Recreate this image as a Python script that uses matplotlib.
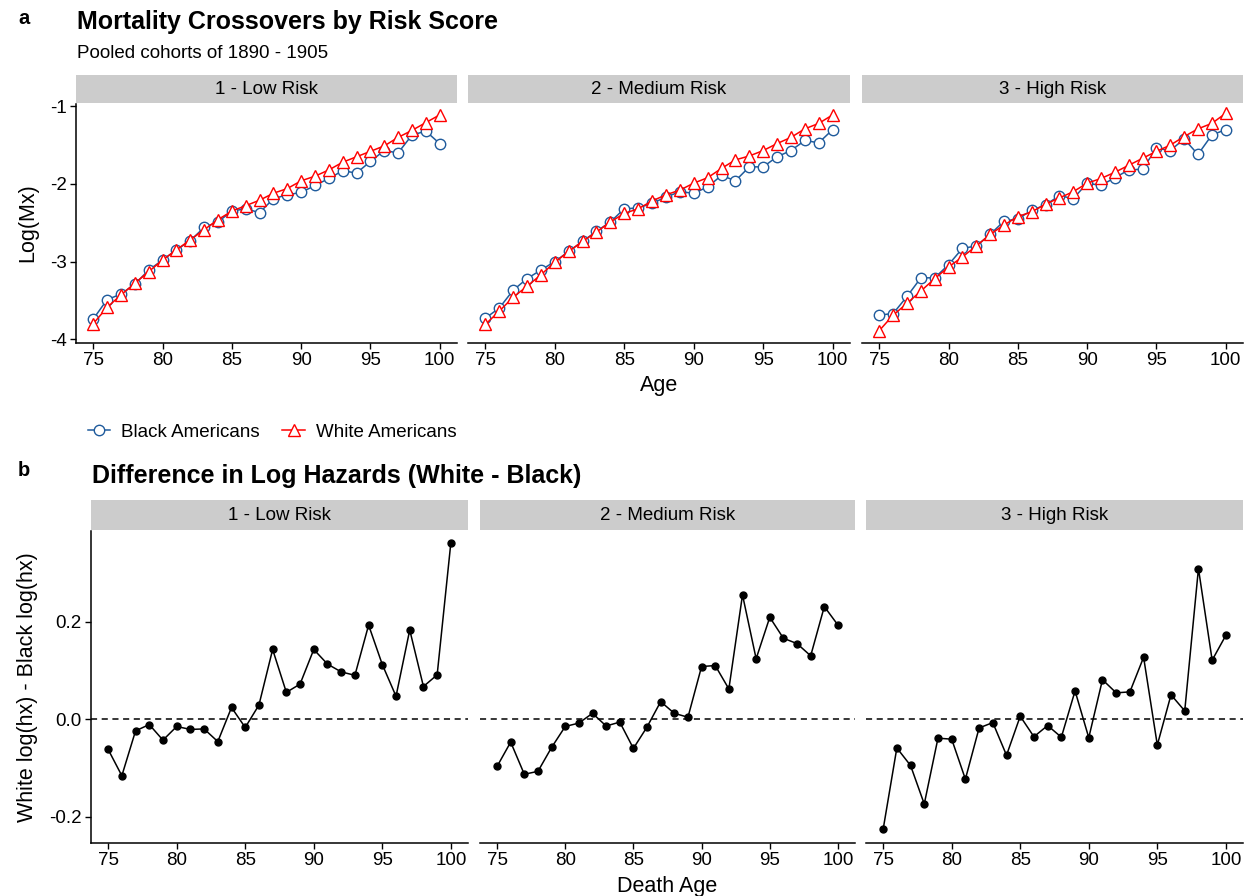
import numpy as np
import matplotlib
matplotlib.use("Agg")
import matplotlib.pyplot as plt
from matplotlib.lines import Line2D

plt.rcParams['font.family'] = ['Liberation Sans', 'DejaVu Sans']

ages = list(range(75, 101))
risk_groups = ['1 - Low Risk', '2 - Medium Risk', '3 - High Risk']

# log(Mx), panel a
black_low = [-3.74, -3.49, -3.42, -3.29, -3.11, -2.98, -2.85, -2.73, -2.56, -2.49,
             -2.35, -2.32, -2.37, -2.19, -2.14, -2.11, -2.02, -1.93, -1.83, -1.86,
             -1.71, -1.57, -1.60, -1.37, -1.32, -1.48]
white_low = [-3.80, -3.59, -3.43, -3.28, -3.13, -2.98, -2.85, -2.72, -2.59, -2.46,
             -2.35, -2.28, -2.21, -2.12, -2.06, -1.96, -1.90, -1.82, -1.72, -1.65,
             -1.58, -1.51, -1.40, -1.31, -1.21, -1.11]
black_med = [-3.73, -3.60, -3.37, -3.22, -3.11, -3.00, -2.87, -2.74, -2.61, -2.49,
             -2.32, -2.31, -2.25, -2.17, -2.10, -2.12, -2.04, -1.89, -1.96, -1.78,
             -1.78, -1.65, -1.57, -1.44, -1.47, -1.30]
white_med = [-3.81, -3.64, -3.46, -3.32, -3.17, -3.01, -2.87, -2.74, -2.62, -2.49,
             -2.38, -2.32, -2.22, -2.14, -2.08, -1.99, -1.92, -1.80, -1.69, -1.64,
             -1.57, -1.48, -1.40, -1.29, -1.22, -1.11]
black_high = [-3.69, -3.67, -3.45, -3.21, -3.21, -3.04, -2.83, -2.80, -2.65, -2.48,
              -2.45, -2.34, -2.27, -2.15, -2.19, -1.99, -2.02, -1.92, -1.82, -1.81,
              -1.54, -1.57, -1.42, -1.62, -1.37, -1.30]
white_high = [-3.89, -3.69, -3.54, -3.38, -3.22, -3.07, -2.94, -2.80, -2.65, -2.53,
              -2.42, -2.36, -2.26, -2.18, -2.10, -1.99, -1.93, -1.85, -1.76, -1.67,
              -1.58, -1.50, -1.39, -1.29, -1.22, -1.09]

# white - black log(hx), panel b
diff_low = [-0.062, -0.116, -0.024, -0.011, -0.043, -0.015, -0.021, -0.020, -0.046, 0.024,
            -0.017, 0.029, 0.143, 0.055, 0.072, 0.143, 0.113, 0.097, 0.090, 0.193,
            0.112, 0.047, 0.183, 0.067, 0.091, 0.362]
diff_med = [-0.097, -0.047, -0.113, -0.107, -0.058, -0.015, -0.008, 0.012, -0.014, -0.006,
            -0.060, -0.016, 0.036, 0.012, 0.004, 0.108, 0.110, 0.062, 0.255, 0.124,
            0.209, 0.166, 0.155, 0.130, 0.231, 0.193]
diff_high = [-0.226, -0.059, -0.095, -0.174, -0.039, -0.041, -0.123, -0.018, -0.007, -0.074,
             0.006, -0.036, -0.013, -0.037, 0.058, -0.038, 0.081, 0.054, 0.056, 0.127,
             -0.053, 0.050, 0.017, 0.309, 0.121, 0.172]

black_series = [black_low, black_med, black_high]
white_series = [white_low, white_med, white_high]
diff_series = [diff_low, diff_med, diff_high]

BLUE = '#1f5b9c'
RED = '#ff0000'
STRIP = '#cccccc'

W, H = 1249, 896
fig = plt.figure(figsize=(W / 100, H / 100), dpi=100)


def px_axes(x0, y0, x1, y1):
    # pixel box (top-left origin) -> figure axes
    return fig.add_axes([x0 / W, 1 - y1 / H, (x1 - x0) / W, (y1 - y0) / H])


def style_axes(ax, first):
    for s in ['top', 'right']:
        ax.spines[s].set_visible(False)
    ax.spines['bottom'].set_linewidth(1.1)
    ax.spines['left'].set_linewidth(1.1)
    if not first:
        ax.spines['left'].set_visible(False)
        ax.tick_params(axis='y', left=False, labelleft=False)
    ax.tick_params(length=4.5, width=1.0, labelsize=13.5, colors='black', pad=2)
    ax.set_xticks([75, 80, 85, 90, 95, 100])
    ax.set_xlim(73.75, 101.25)


def add_strip(x0, y0, x1, y1, label):
    sax = px_axes(x0, y0, x1, y1)
    sax.set_facecolor(STRIP)
    for s in sax.spines.values():
        s.set_visible(False)
    sax.set_xticks([])
    sax.set_yticks([])
    sax.text(0.5, 0.5, label, ha='center', va='center', fontsize=13.5,
             transform=sax.transAxes)


# ---- panel a ----
top_x = [(76, 457), (468, 850), (862, 1243)]
for i, (x0, x1) in enumerate(top_x):
    ax = px_axes(x0, 104, x1, 343)
    ax.plot(ages, black_series[i], color=BLUE, lw=1.1, marker='o', ms=7.5,
            mfc='white', mec=BLUE, mew=1.0, zorder=3)
    ax.plot(ages, white_series[i], color=RED, lw=1.1, marker='^', ms=8.5,
            mfc='white', mec=RED, mew=1.0, zorder=4)
    style_axes(ax, i == 0)
    ax.set_ylim(-4.05, -0.97)
    ax.set_yticks([-4, -3, -2, -1])
    ax.set_yticklabels(['-4', '-3', '-2', '-1'])
    add_strip(x0, 75, x1, 103, risk_groups[i])

fig.text(28 / W, 1 - 223 / H, 'Log(Mx)', rotation=90, ha='center', va='center', fontsize=15.5)
fig.text(659 / W, 1 - 386 / H, 'Age', ha='center', va='center', fontsize=15.5)

# ---- panel b ----
bot_x = [(91, 468), (480, 855), (866, 1243)]
for i, (x0, x1) in enumerate(bot_x):
    ax = px_axes(x0, 531, x1, 843)
    ax.axhline(0, color='black', lw=1.1, ls=(0, (4, 3)), zorder=1)
    ax.plot(ages, diff_series[i], color='black', lw=1.1, marker='o', ms=5, zorder=3)
    style_axes(ax, i == 0)
    ax.set_ylim(-0.254, 0.386)
    ax.set_yticks([-0.2, 0.0, 0.2])
    ax.set_yticklabels(['-0.2', '0.0', '0.2'])
    add_strip(x0, 500, x1, 530, risk_groups[i])

fig.text(28 / W, 1 - 687 / H, 'White log(hx) - Black log(hx)', rotation=90,
         ha='center', va='center', fontsize=15.5)
fig.text(667 / W, 1 - 886 / H, 'Death Age', ha='center', va='center', fontsize=15.5)

# ---- titles ----
fig.text(18 / W, 1 - 18 / H, 'a', fontsize=14.5, fontweight='bold', ha='left', va='center')
fig.text(77 / W, 1 - 22 / H, 'Mortality Crossovers by Risk Score', fontsize=18,
         fontweight='bold', ha='left', va='center')
fig.text(77 / W, 1 - 53 / H, 'Pooled cohorts of 1890 - 1905', fontsize=13.5,
         ha='left', va='center')
fig.text(18 / W, 1 - 470 / H, 'b', fontsize=14.5, fontweight='bold', ha='left', va='center')
fig.text(92 / W, 1 - 476 / H, 'Difference in Log Hazards (White - Black)', fontsize=18,
         fontweight='bold', ha='left', va='center')

# ---- legend ----
handles = [Line2D([], [], color=BLUE, lw=1.1, marker='o', ms=7.5, mfc='white', mec=BLUE),
           Line2D([], [], color=RED, lw=1.1, marker='^', ms=8.5, mfc='white', mec=RED)]
fig.legend(handles, ['Black Americans', 'White Americans'], loc='center left',
           bbox_to_anchor=(80 / W, 1 - 432 / H), ncol=2, frameon=False, fontsize=13.5,
           handlelength=1.2, handletextpad=0.6, columnspacing=1.2, borderaxespad=0)

fig.savefig('out.png', dpi=100)
